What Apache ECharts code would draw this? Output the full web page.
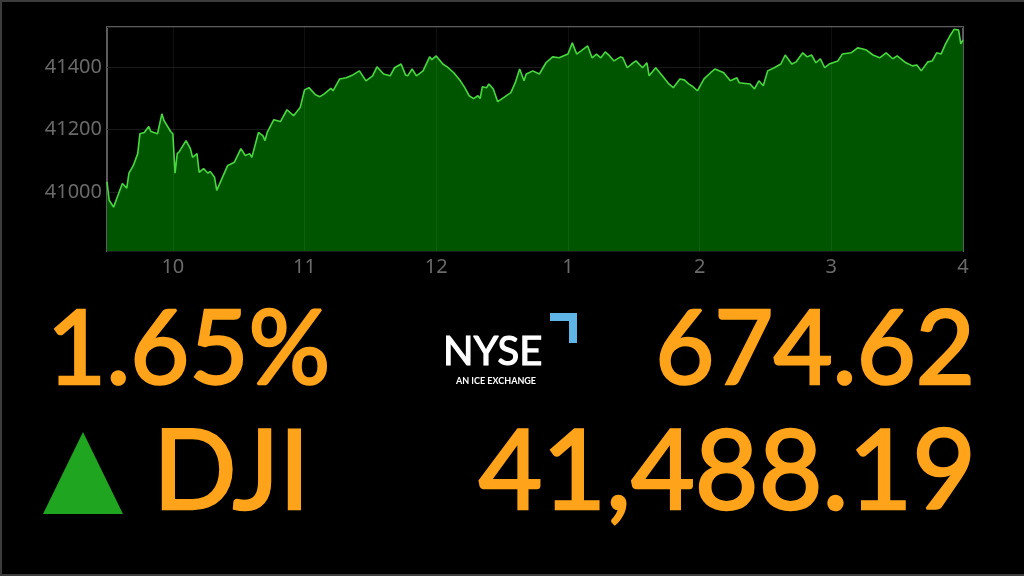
<!DOCTYPE html>
<html>
<head>
<meta charset="utf-8">
<script src="https://cdn.jsdelivr.net/npm/echarts@6/dist/echarts.min.js"></script>
<style>
html,body{margin:0;padding:0;background:#000;}
#chart{width:1024px;height:576px;}
</style>
</head>
<body>
<div id="chart"></div>
<script>
// minutes after 9:30 open
const minutes = [0,1,3,5,7,9,10,12,14,15,17,19,20,23,25,26,29,30,31,32,33,36,38,39,41,42,44,46,47,49,50,52,55,56,58,61,63,65,66,69,71,72,73,76,79,82,85,88,90,92,95,97,99,102,103,106,109,112,115,118,121,123,126,129,131,134,136,137,139,141,144,147,148,150,153,155,158,161,163,165,167,169,170,171,173,174,176,178,180,184,186,188,190,191,194,197,200,203,206,210,212,214,216,219,221,223,225,227,229,231,234,235,237,239,241,244,246,247,250,253,256,258,261,263,265,267,269,272,275,277,281,284,287,288,293,295,297,299,301,304,307,309,312,314,317,319,321,323,325,327,329,333,335,339,342,344,346,349,352,355,358,360,364,367,369,371,374,376,378,380,382,384,386,388,389,390];
const djiValues = [41032,40973,40951,40989,41027,41012,41060,41085,41123,41187,41191,41210,41194,41187,41251,41229,41194,41187,41060,41123,41130,41165,41139,41111,41123,41063,41075,41060,41066,41047,41005,41037,41085,41088,41095,41139,41117,41123,41111,41191,41181,41165,41191,41232,41226,41264,41245,41271,41328,41335,41312,41306,41315,41333,41325,41363,41367,41376,41389,41357,41373,41402,41379,41373,41399,41411,41376,41373,41395,41373,41389,41434,41425,41437,41411,41402,41383,41357,41335,41309,41300,41309,41300,41338,41335,41347,41331,41290,41300,41319,41351,41395,41357,41379,41389,41379,41415,41434,41431,41443,41479,41443,41453,41469,41431,41443,41431,41450,41437,41421,41434,41431,41399,41411,41421,41399,41415,41373,41399,41373,41347,41335,41363,41360,41347,41338,41325,41363,41383,41395,41383,41357,41367,41351,41347,41331,41357,41341,41389,41399,41411,41440,41411,41418,41447,41434,41440,41415,41428,41399,41411,41421,41443,41447,41463,41460,41456,41440,41431,41447,41428,41437,41415,41405,41408,41389,41418,41421,41447,41443,41475,41501,41523,41520,41476,41488];
const hourMinutes = [30,90,150,210,270,330,390];
const hourLabels = ['10','11','12','1','2','3','4'];
const yLabelValues = [41000,41200,41400];

const pctChange = '1.65%';
const pointChange = '674.62';
const indexName = 'DJI';
const lastValue = '41,488.19';
const logoText = 'NYSE';
const logoSub = 'AN ICE EXCHANGE';

const seriesData = minutes.map((m, i) => [m, djiValues[i]]);

const chart = echarts.init(document.getElementById('chart'));
const orange = '#ffa41a';
function bigText(x, y, text, size, align) {
  return {type: 'text', x: x, y: y, style: {text: text, fill: orange, stroke: orange, lineWidth: 2.5,
    font: size + 'px Lato', textAlign: align, textVerticalAlign: 'middle'}};
}
chart.setOption({
  backgroundColor: '#000',
  animation: false,
  grid: {left: 107, top: 27, right: 61, bottom: 325, show: true, borderColor: '#5c5c5c', borderWidth: 2, backgroundColor: 'transparent'},
  xAxis: {
    type: 'value', min: 0, max: 390, interval: 30,
    axisLine: {show: false}, axisTick: {show: false}, splitLine: {show: false},
    axisLabel: {
      color: '#6a6a6a', fontSize: 20, fontFamily: 'Noto Sans', margin: 6, showMaxLabel: true,
      formatter: v => { const k = hourMinutes.indexOf(v); return k >= 0 ? hourLabels[k] : ''; }
    }
  },
  yAxis: {
    type: 'value', min: 40810, max: 41530, splitNumber: 4,
    axisLine: {show: false}, axisTick: {show: false},
    splitLine: {show: true, lineStyle: {color: '#1a1a1a', width: 1}},
    axisLabel: {
      color: '#6a6a6a', fontSize: 20, fontFamily: 'Noto Sans', margin: 5,
      formatter: v => yLabelValues.indexOf(v) >= 0 ? String(v) : ''
    }
  },
  series: [{
    type: 'line', data: seriesData, showSymbol: false, smooth: false,
    lineStyle: {color: '#4ad840', width: 1.6},
    areaStyle: {color: '#005600', opacity: 1, origin: 'start'},
    markLine: {
      silent: true, symbol: 'none', label: {show: false},
      lineStyle: {color: 'rgba(255,255,255,0.06)', type: 'solid', width: 1},
      data: hourMinutes.slice(0, -1).map(m => ({xAxis: m}))
    }
  }],
  graphic: [
    {type: 'polyline', shape: {points: [[1024,1],[1,1],[1,575],[1024,575]]}, style: {stroke: '#3c3c3c', lineWidth: 2, fill: null}},
    bigText(47, 351, pctChange, 102, 'left'),
    bigText(975, 351, pointChange, 102, 'right'),
    bigText(153, 474, indexName, 110, 'left'),
    bigText(976, 474, lastValue, 110, 'right'),
    {type: 'polygon', shape: {points: [[43,514],[83,432],[123,514]]}, style: {fill: '#1fa51f'}},
    {type: 'text', x: 443, y: 352, style: {text: logoText, fill: '#ffffff', stroke: '#ffffff', lineWidth: 1.2, font: '40px Lato', textAlign: 'left', textVerticalAlign: 'middle'}},
    {type: 'text', x: 496, y: 381, style: {text: logoSub, fill: '#ffffff', font: 'bold 9px Lato', textAlign: 'center', textVerticalAlign: 'middle'}},
    {type: 'polygon', shape: {points: [[550,313],[577,313],[577,343],[569,343],[569,321],[550,321]]}, style: {fill: '#5fb6e6'}}
  ]
});
</script>
</body>
</html>
